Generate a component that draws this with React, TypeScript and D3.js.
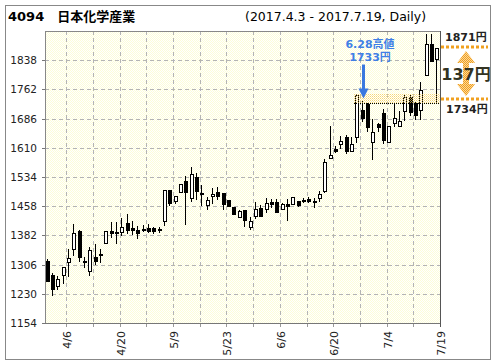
import React from "react";
import * as d3 from "d3";

const dates = ["4/3","4/4","4/5","4/6","4/7","4/10","4/11","4/12","4/13","4/14","4/17","4/18","4/19","4/20","4/21","4/24","4/25","4/26","4/27","4/28","5/1","5/2","5/8","5/9","5/10","5/11","5/12","5/15","5/16","5/17","5/18","5/19","5/22","5/23","5/24","5/25","5/26","5/29","5/30","5/31","6/1","6/2","6/5","6/6","6/7","6/8","6/9","6/12","6/13","6/14","6/15","6/16","6/19","6/20","6/21","6/22","6/23","6/26","6/27","6/28","6/29","6/30","7/3","7/4","7/5","7/6","7/7","7/10","7/11","7/12","7/13","7/14","7/18","7/19"];

const opens = [1316,1279,1251,1278,1312,1346,1393,1315,1289,1326,1334,1361,1393,1392,1391,1415,1401,1395,1399,1401,1401,1397,1420,1499,1472,1494,1523,1480,1533,1492,1462,1484,1494,1492,1473,1456,1429,1447,1403,1432,1454,1452,1469,1470,1451,1463,1463,1471,1474,1476,1471,1480,1497,1583,1606,1621,1637,1602,1639,1708,1725,1624,1671,1701,1626,1674,1668,1705,1742,1727,1709,1800,1880,1841];
const highs = [1321,1283,1276,1299,1346,1412,1396,1327,1352,1359,1346,1393,1416,1416,1426,1437,1419,1406,1410,1412,1405,1405,1499,1499,1484,1517,1537,1561,1544,1513,1481,1505,1509,1492,1473,1456,1447,1447,1429,1468,1462,1479,1477,1477,1466,1476,1481,1471,1479,1482,1479,1498,1582,1667,1614,1641,1643,1639,1749,1733,1727,1684,1675,1710,1667,1727,1706,1748,1747,1730,1781,1906,1906,1871];
const lows = [1263,1226,1243,1259,1276,1331,1316,1299,1278,1307,1313,1361,1378,1363,1382,1389,1386,1374,1393,1391,1387,1392,1409,1461,1467,1494,1412,1471,1476,1461,1452,1467,1476,1452,1458,1438,1429,1406,1398,1426,1432,1443,1457,1442,1451,1422,1463,1459,1469,1469,1455,1471,1496,1583,1599,1609,1596,1602,1626,1680,1654,1582,1654,1622,1624,1668,1668,1683,1695,1685,1686,1800,1836,1730];
const closes = [1264,1243,1268,1299,1322,1388,1327,1312,1343,1315,1330,1393,1389,1387,1403,1396,1397,1387,1397,1394,1394,1398,1499,1467,1484,1517,1496,1541,1498,1489,1473,1490,1484,1464,1458,1438,1445,1421,1419,1452,1433,1467,1463,1442,1463,1459,1481,1462,1471,1471,1469,1490,1573,1590,1602,1628,1602,1620,1747,1687,1665,1650,1663,1630,1667,1687,1680,1742,1704,1696,1761,1880,1836,1871];

const yTicks = [1154,1230,1306,1382,1458,1534,1610,1686,1762,1838];
const xLabels = ["4/6","4/20","5/9","5/23","6/6","6/20","7/4","7/19"];

const title = "4094\u3000日本化学産業";
const subtitle = "(2017.4.3 - 2017.7.19, Daily)";
const highDate = "6/28";
const highNote = ["6.28高値", "1733円"];
const highValue = 1733;
const bandRange = [1727, 1749];
const lastPrice = 1871;
const basePrice = 1734;
const diffLabel = "137円";

const FONT = "'DejaVu Sans', Verdana, 'Noto Sans CJK JP', sans-serif";

export default function App() {
  const W = 496, H = 364;
  const left = 45, right = 440, top = 31, bottom = 323;
  const idx = d3.range(dates.length);
  const x = d3.scaleBand<number>().domain(idx).range([left, right]);
  const bw = x.bandwidth();
  const y = d3.scaleLinear().domain([1154, 1914]).range([bottom, top]);
  const center = (i: number) => (x(i) as number) + bw / 2;
  const gridX = idx.filter((i) => i % 5 === 3).map((i) => Math.round((x(i) as number) + bw));
  const labelX = xLabels.map((d) => {
    const i = dates.indexOf(d);
    return { d, px: Math.round((x(i) as number) + bw) };
  });

  const hi = dates.indexOf(highDate);
  const arrowX = Math.round(center(hi)) + 0.5;
  const tipY = y(highValue) - 2;

  const yLast = Math.round(y(lastPrice)) - 1;
  const yBase = Math.round(y(basePrice)) - 1;
  const ax = 466;
  const aTop = yLast + 4, aBot = yBase - 3;
  const dblArrow = `M${ax},${aTop} L${ax + 9},${aTop + 12} L${ax + 3},${aTop + 12} L${ax + 3},${aBot - 12} L${ax + 9},${aBot - 12} L${ax},${aBot} L${ax - 9},${aBot - 12} L${ax - 3},${aBot - 12} L${ax - 3},${aTop + 12} L${ax - 9},${aTop + 12} Z`;

  const bandTop = Math.round(y(bandRange[1]));
  const bandBot = Math.round(y(bandRange[0]));
  const bandLeft = Math.round(center(hi - 1)) - 3;

  return (
    <svg width={W} height={H} style={{ position: "absolute", left: 0, top: 0, background: "#fff" }} fontFamily={FONT}>
      <defs>
        <pattern id="bg" width="2" height="2" patternUnits="userSpaceOnUse">
          <rect width="2" height="2" fill="#ffffff" />
          <rect x="0" y="0" width="1" height="1" fill="#fdfdd8" />
          <rect x="1" y="1" width="1" height="1" fill="#fdfdd8" />
        </pattern>
        <pattern id="band" width="2" height="2" patternUnits="userSpaceOnUse">
          <rect x="0" y="0" width="1" height="1" fill="#f5c84a" />
          <rect x="1" y="1" width="1" height="1" fill="#fae49a" />
        </pattern>
        <pattern id="orng" width="2" height="2" patternUnits="userSpaceOnUse">
          <rect width="2" height="2" fill="#fcd79a" />
          <rect x="0" y="0" width="1" height="1" fill="#f0a020" />
          <rect x="1" y="1" width="1" height="1" fill="#f0a020" />
        </pattern>
      </defs>
      <rect x={5.5} y={5.5} width={485} height={354} fill="#fff" stroke="#888" />
      <text x={8} y={21} fontSize={13} fontWeight="bold" fill="#000">{title}</text>
      <text x={245} y={21} fontSize={12.5} fill="#000">{subtitle}</text>

      <rect x={left} y={top} width={right - left} height={bottom - top} fill="url(#bg)" />

      <g shapeRendering="crispEdges">
        {yTicks.slice(1).map((t) => (
          <line key={t} x1={left} x2={right} y1={Math.round(y(t)) + 0.5} y2={Math.round(y(t)) + 0.5} stroke="#b4b4b4" strokeDasharray="4,3" />
        ))}
        {gridX.slice(0, -1).map((gx) => (
          <line key={gx} x1={gx + 0.5} x2={gx + 0.5} y1={top} y2={bottom} stroke="#b4b4b4" strokeDasharray="4,3" />
        ))}
        {yTicks.map((t) => (
          <line key={"t" + t} x1={left - 3} x2={left} y1={Math.round(y(t)) + 0.5} y2={Math.round(y(t)) + 0.5} stroke="#777" />
        ))}
        {gridX.map((gx) => (
          <line key={"b" + gx} x1={gx + 0.5} x2={gx + 0.5} y1={bottom} y2={bottom + 4} stroke="#999" />
        ))}
      </g>

      <g shapeRendering="crispEdges">
        {idx.map((i) => {
          const o = opens[i], c = closes[i];
          const x0 = Math.round(center(i) - 2);
          const yt = Math.round(y(Math.max(o, c)));
          const yb = Math.round(y(Math.min(o, c)));
          const h = Math.max(yb - yt, 1);
          const up = c >= o;
          return (
            <g key={i}>
              <line x1={x0 + 1.5} x2={x0 + 1.5} y1={Math.round(y(highs[i]))} y2={Math.round(y(lows[i])) + 1} stroke="#000" />
              {up ? (
                <rect x={x0 + 0.5} y={yt + 0.5} width={3} height={Math.max(h, 1)} fill="#fff" stroke="#000" />
              ) : (
                <rect x={x0} y={yt} width={4} height={h + 1} fill="#000" />
              )}
            </g>
          );
        })}
      </g>

      <rect x={bandLeft} y={bandTop} width={right - bandLeft} height={bandBot - bandTop} fill="url(#band)" opacity={0.7} />
      <line x1={bandLeft} x2={right} y1={bandBot + 0.5} y2={bandBot + 0.5} stroke="#000" strokeDasharray="1,1" shapeRendering="crispEdges" />

      <g shapeRendering="crispEdges" fill="none">
        <line x1={left + 0.5} x2={left + 0.5} y1={top} y2={bottom} stroke="#888" />
        <line x1={left} x2={right} y1={top + 0.5} y2={top + 0.5} stroke="#888" />
        <line x1={left} x2={right + 1} y1={bottom + 0.5} y2={bottom + 0.5} stroke="#777" />
        <line x1={right + 0.5} x2={right + 0.5} y1={top} y2={bottom + 4} stroke="#555" />
      </g>

      {yTicks.map((t) => (
        <text key={"l" + t} x={37} y={y(t) + 4} fontSize={10.5} textAnchor="end" fill="#222">{t}</text>
      ))}
      {labelX.map(({ d, px }) => (
        <text key={"x" + d} transform={`translate(${px + 4.5},331) rotate(-90)`} fontSize={11} textAnchor="end" fill="#222">{d}</text>
      ))}

      <text x={370} y={47.5} fontSize={11} fontWeight="bold" fill="#3f7fe6" textAnchor="middle">{highNote[0]}</text>
      <text x={370} y={61} fontSize={11} fontWeight="bold" fill="#3f7fe6" textAnchor="middle">{highNote[1]}</text>
      <rect x={arrowX - 1.5} y={tipY - 34} width={3} height={25} fill="#3a78e0" />
      <path d={`M${arrowX - 5},${tipY - 10} L${arrowX + 5},${tipY - 10} L${arrowX},${tipY} Z`} fill="#3a78e0" />

      <line x1={right + 1} x2={488} y1={yLast} y2={yLast} stroke="#f0a020" strokeWidth={3} strokeDasharray="3,2" />
      <line x1={right + 1} x2={488} y1={yBase} y2={yBase} stroke="#f0a020" strokeWidth={3} strokeDasharray="3,2" />
      <path d={dblArrow} fill="url(#orng)" />
      <text x={445} y={41} fontSize={11} fontWeight="bold" fill="#222">{lastPrice}円</text>
      <text x={446} y={113} fontSize={11} fontWeight="bold" fill="#222">{basePrice}円</text>
      <text x={466} y={79.5} fontSize={16} fontWeight="bold" fill="#333322" textAnchor="middle">{diffLabel}</text>
    </svg>
  );
}
